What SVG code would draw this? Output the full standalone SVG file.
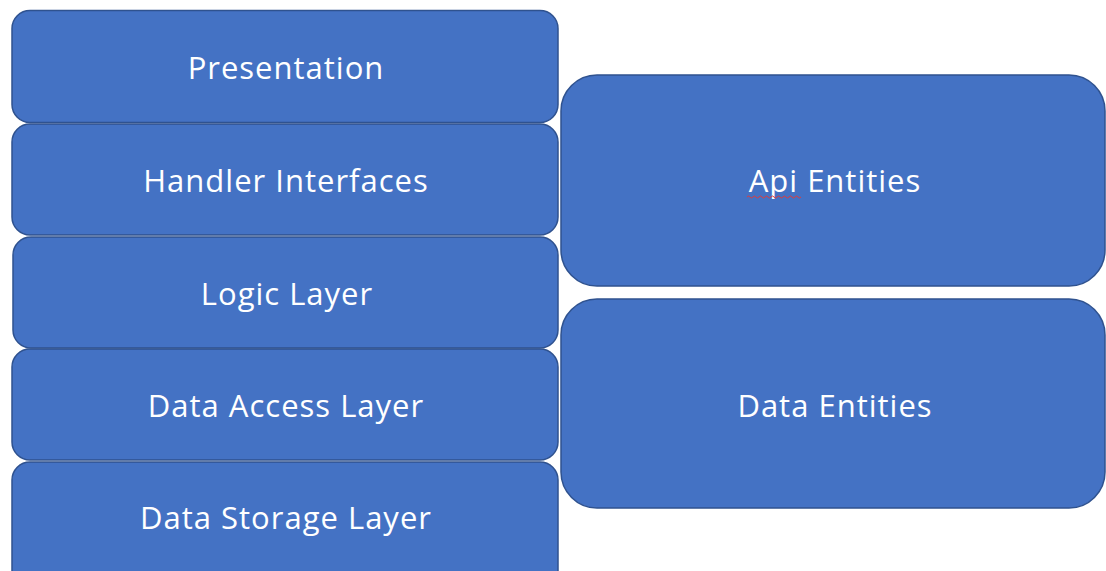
<svg xmlns="http://www.w3.org/2000/svg" width="1106" height="571" viewBox="0 0 1106 571">
  <style>
    .box { fill: #4472C4; stroke: #2F528F; stroke-width: 1.5; }
    .label { fill: #FFFFFF; font-family: "Open Sans", "Noto Sans", "DejaVu Sans", sans-serif; font-size: 31px; letter-spacing: 1px; text-anchor: middle; }
    .squiggle { fill: none; stroke: #E03C3C; stroke-width: 1; }
  </style>
  <rect width="1106" height="571" fill="#FFFFFF"/>

  <!-- layer stack, top to bottom -->
  <g id="presentation">
    <rect class="box" x="12" y="10.5" width="546" height="112" rx="18" ry="18"/>
    <text class="label" x="286" y="79">Presentation</text>
  </g>
  <g id="handler-interfaces">
    <rect class="box" x="12" y="124" width="546" height="111" rx="18" ry="18"/>
    <text class="label" x="286" y="192">Handler Interfaces</text>
  </g>
  <g id="logic-layer">
    <rect class="box" x="13" y="237" width="545" height="111" rx="18" ry="18"/>
    <text class="label" x="287" y="305">Logic Layer</text>
  </g>
  <g id="data-access-layer">
    <rect class="box" x="12" y="349" width="546" height="111" rx="18" ry="18"/>
    <text class="label" x="286" y="417">Data Access Layer</text>
  </g>
  <g id="data-storage-layer">
    <rect class="box" x="12" y="462" width="546" height="130" rx="18" ry="18"/>
    <text class="label" x="286" y="529">Data Storage Layer</text>
  </g>

  <!-- entity blocks on the right -->
  <g id="api-entities">
    <rect class="box" x="561" y="75" width="544" height="211" rx="36" ry="36"/>
    <text class="label" x="835" y="192">Api Entities</text>
    <path class="squiggle" d="M747 197 q1.5 -2 3 0 t3 0 t3 0 t3 0 t3 0 t3 0 t3 0 t3 0 t3 0 t3 0 t3 0 t3 0 t3 0 t3 0 t3 0 t3 0 t3 0 t3 0"/>
  </g>
  <g id="data-entities">
    <rect class="box" x="561" y="299" width="544" height="209" rx="36" ry="36"/>
    <text class="label" x="835" y="417">Data Entities</text>
  </g>

  <!-- no connectors in this diagram -->
  <g id="connectors"/>
</svg>
